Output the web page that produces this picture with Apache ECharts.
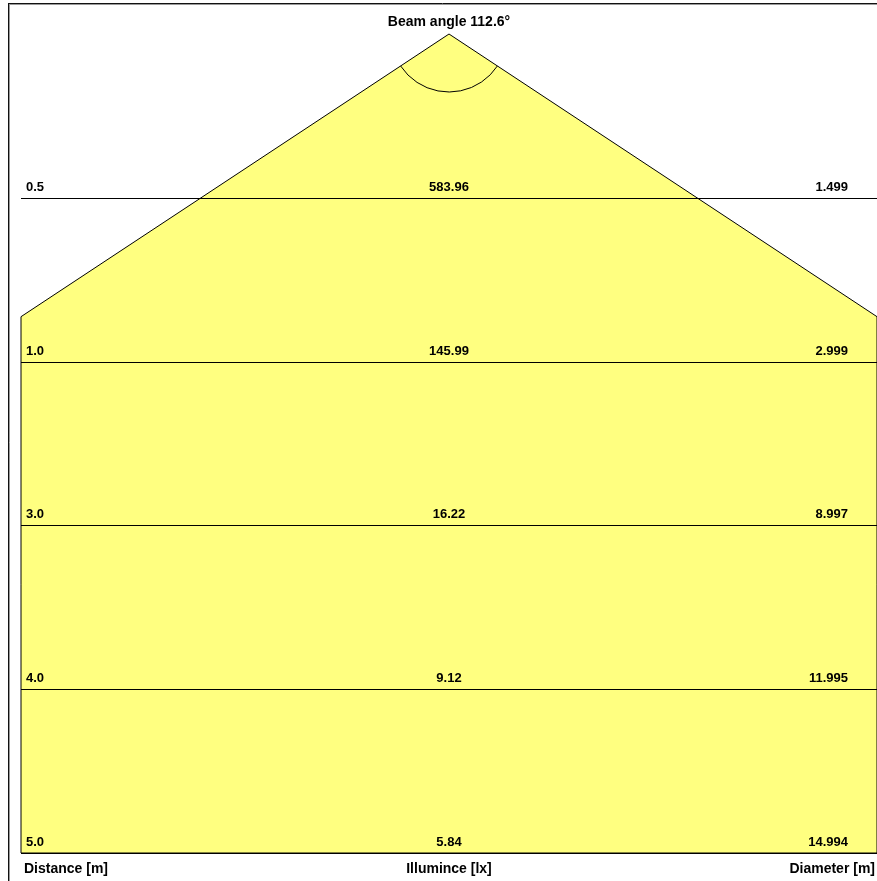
<!DOCTYPE html>
<html>
<head>
<meta charset="utf-8">
<script src="https://cdn.jsdelivr.net/npm/echarts@6/dist/echarts.min.js"></script>
<style>
html,body{margin:0;padding:0;background:#fff;}
#chart{width:877px;height:881px;}
</style>
</head>
<body>
<div id="chart"></div>
<script>
// ---- data ----
const distances = ['0.5', '1.0', '3.0', '4.0', '5.0'];
const illuminance = ['583.96', '145.99', '16.22', '9.12', '5.84'];
const diameters = ['1.499', '2.999', '8.997', '11.995', '14.994'];
const beamAngleLabel = 'Beam angle 112.6°';
const axisTitles = ['Distance [m]', 'Illumince [lx]', 'Diameter [m]'];

// ---- layout / style ----
const xHalf = 1.2935;           // visible half-width (m) at the drawing scale
const FONT = 'bold 13px "Liberation Sans", Arial, sans-serif';
const FONT_T = 'bold 14px "Liberation Sans", Arial, sans-serif';
const YELLOW = '#ffff80';
const INK = '#000';

const levels = distances.map((d, i) => [i + 1, d, illuminance[i], diameters[i]]);
const slope = parseFloat(diameters[0]) / 2; // radius per level step (cone edge)

const chart = echarts.init(document.getElementById('chart'), null, {renderer: 'canvas'});

const option = {
  animation: false,
  backgroundColor: '#fff',
  grid: {left: 21, right: 0, top: 34, bottom: 28},
  xAxis: {type: 'value', min: -xHalf, max: xHalf, show: false},
  yAxis: {type: 'value', min: 0, max: levels.length, inverse: true, show: false},
  graphic: [
    {type: 'line', shape: {x1: 9.5, y1: 4, x2: 9.5, y2: 881}, style: {stroke: '#999', lineWidth: 1}, z: 10},
    {type: 'line', shape: {x1: 9, y1: 4.5, x2: 877, y2: 4.5}, style: {stroke: '#999', lineWidth: 1}, z: 10},
    {type: 'line', shape: {x1: 8.5, y1: 3, x2: 8.5, y2: 881}, style: {stroke: '#111', lineWidth: 1}, z: 11},
    {type: 'line', shape: {x1: 8, y1: 3.5, x2: 877, y2: 3.5}, style: {stroke: '#111', lineWidth: 1}, z: 11}
  ],
  series: [
    {
      type: 'custom',
      coordinateSystem: 'cartesian2d',
      data: [[0, 0]],
      silent: true,
      z: 1,
      renderItem: function (params, api) {
        const tClip = xHalf / slope;
        const nL = levels.length;
        const pts = [
          api.coord([0, 0]),
          api.coord([xHalf, tClip]),
          api.coord([xHalf, nL]),
          api.coord([-xHalf, nL]),
          api.coord([-xHalf, tClip])
        ];
        const apex = pts[0];
        const r = 58;
        const angR = Math.atan2(pts[1][1] - apex[1], pts[1][0] - apex[0]);
        const angL = Math.atan2(pts[4][1] - apex[1], pts[4][0] - apex[0]);
        const by = api.coord([0, nL])[1] + 16;
        return {
          type: 'group',
          children: [
            {type: 'polygon', shape: {points: pts}, style: {fill: YELLOW, stroke: INK, lineWidth: 1}},
            {type: 'arc', shape: {cx: apex[0], cy: apex[1], r: r, startAngle: angR, endAngle: angL, clockwise: true},
             style: {fill: null, stroke: INK, lineWidth: 1}},
            {type: 'text', style: {text: beamAngleLabel, x: apex[0], y: apex[1] - 12, align: 'center', verticalAlign: 'middle', font: FONT_T, fill: INK}},
            {type: 'text', style: {text: axisTitles[0], x: api.coord([-xHalf, nL])[0] + 3, y: by, align: 'left', verticalAlign: 'middle', font: FONT_T, fill: INK}},
            {type: 'text', style: {text: axisTitles[1], x: apex[0], y: by, align: 'center', verticalAlign: 'middle', font: FONT_T, fill: INK}},
            {type: 'text', style: {text: axisTitles[2], x: api.coord([xHalf, nL])[0] - 2, y: by, align: 'right', verticalAlign: 'middle', font: FONT_T, fill: INK}}
          ]
        };
      }
    },
    {
      type: 'custom',
      coordinateSystem: 'cartesian2d',
      data: levels,
      silent: true,
      z: 2,
      encode: {y: 0},
      renderItem: function (params, api) {
        const lv = api.value(0);
        const L = api.coord([-xHalf, lv]);
        const R = api.coord([xHalf, lv]);
        const C = api.coord([0, lv]);
        const ly = Math.round(L[1]) + 0.5;
        const item = levels[params.dataIndex];
        return {
          type: 'group',
          children: [
            {type: 'line', shape: {x1: L[0], y1: ly, x2: R[0], y2: ly}, style: {stroke: INK, lineWidth: 1}},
            {type: 'text', style: {text: item[1], x: L[0] + 5, y: ly - 11, align: 'left', verticalAlign: 'middle', font: FONT, fill: INK}},
            {type: 'text', style: {text: item[2], x: C[0], y: ly - 11, align: 'center', verticalAlign: 'middle', font: FONT, fill: INK}},
            {type: 'text', style: {text: item[3], x: R[0] - 29, y: ly - 11, align: 'right', verticalAlign: 'middle', font: FONT, fill: INK}}
          ]
        };
      }
    }
  ]
};
chart.setOption(option);
</script>
</body>
</html>
